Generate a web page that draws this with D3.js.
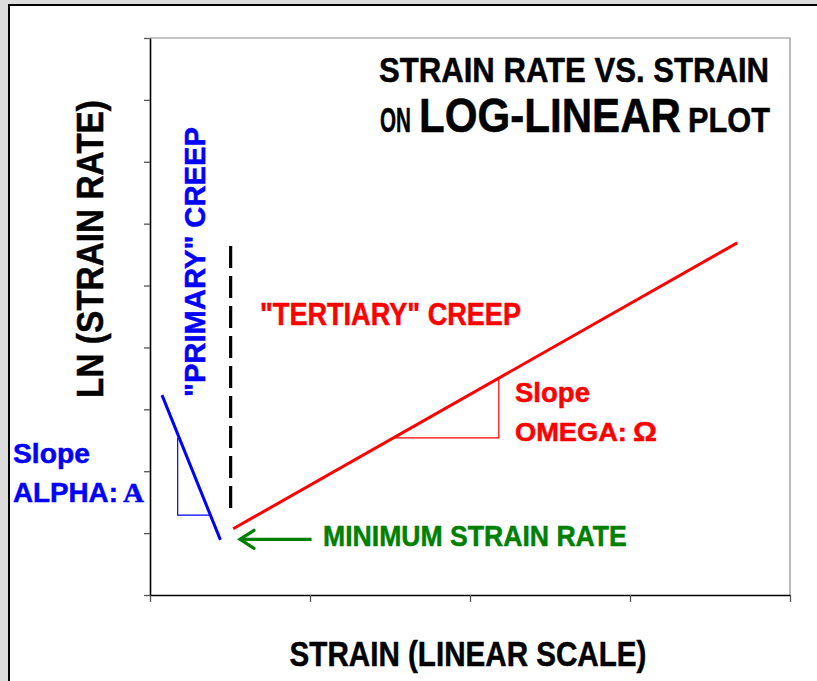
<!DOCTYPE html>
<html><head><meta charset="utf-8">
<script src="https://cdn.jsdelivr.net/npm/d3@7"></script>
<style>
html,body{margin:0;padding:0;background:#dcdcdc;}
svg{display:block;}
</style></head>
<body>
<svg id="chart" width="817" height="681"></svg>
<script>
// ---- data ----
const xTicks = [0, 1, 2, 3, 4];
const yTicks = [0, 1, 2, 3, 4, 5, 6, 7, 8, 9];
const tertiaryLine = [[0.52, 1.07], [3.67, 5.69]];          // red, log-linear strain rate
const omegaTriangle = [[1.53, 2.54], [2.18, 2.54], [2.18, 3.49]];
const primaryLine = [[0.075, 3.23], [0.44, 0.89]];           // blue
const alphaTriangle = [[0.173, 2.54], [0.173, 1.29], [0.37, 1.29]];
const minRateMarker = [[0.504, 5.64], [0.504, 1.29]];         // dashed separator
const minRateArrow = [[1.01, 0.90], [0.5625, 0.90]];
const labels = {
  title1: "STRAIN RATE VS. STRAIN",
  title2a: "ON", title2b: "LOG-LINEAR", title2c: "PLOT",
  xTitle: "STRAIN (LINEAR SCALE)",
  yTitle: "LN (STRAIN RATE)",
  primary: "\"PRIMARY\" CREEP",
  tertiary: "\"TERTIARY\" CREEP",
  minRate: "MINIMUM STRAIN RATE"
};

const svg = d3.select("#chart");
const font = "'Liberation Sans', Arial, Helvetica, sans-serif";

// outer panel
svg.append("rect").attr("x", 9).attr("y", 5).attr("width", 820).attr("height", 690)
  .attr("fill", "#fff");
svg.append("path").attr("d", "M9,690 V5 H817").attr("fill", "none")
  .attr("stroke", "#000").attr("stroke-width", 2);

const pL = 150, pR = 790, pT = 38, pB = 595;
const x = d3.scaleLinear().domain([0, 4]).range([pL, pR]);
const y = d3.scaleLinear().domain([0, 9]).range([pB, pT]);

// plot frame (top/right)
svg.append("path").attr("d", `M${pL},${pT} H${pR} V${pB}`)
  .attr("fill", "none").attr("stroke", "#8c8c8c").attr("stroke-width", 1.2);

const xAxis = svg.append("g").attr("transform", `translate(0,${pB})`)
  .call(d3.axisBottom(x).tickValues(xTicks).tickSize(7).tickSizeOuter(0).tickFormat(""));
const yAxis = svg.append("g").attr("transform", `translate(${pL},0)`)
  .call(d3.axisLeft(y).tickValues(yTicks).tickSize(6).tickSizeOuter(0).tickFormat(""));
[xAxis, yAxis].forEach(g => {
  g.select(".domain").attr("stroke", "#000").attr("stroke-width", 1.6);
  g.selectAll(".tick line").attr("stroke", "#555").attr("stroke-width", 1.3);
});

const line = d3.line().x(d => x(d[0])).y(d => y(d[1]));

svg.append("path").attr("d", line(omegaTriangle)).attr("fill", "none")
  .attr("stroke", "#ff0000").attr("stroke-width", 1.2);
svg.append("path").attr("d", line(tertiaryLine)).attr("fill", "none")
  .attr("stroke", "#ff0000").attr("stroke-width", 3);
svg.append("path").attr("d", line(alphaTriangle)).attr("fill", "none")
  .attr("stroke", "#0000ff").attr("stroke-width", 1.2);
svg.append("path").attr("d", line(primaryLine)).attr("fill", "none")
  .attr("stroke", "#0000ff").attr("stroke-width", 3);
svg.append("path").attr("d", line(minRateMarker)).attr("fill", "none")
  .attr("stroke", "#000").attr("stroke-width", 3.2).attr("stroke-dasharray", "22 8");

// green arrow
svg.append("path").attr("d", line(minRateArrow)).attr("fill", "none")
  .attr("stroke", "#008000").attr("stroke-width", 3.2);
const tip = [x(minRateArrow[1][0]), y(minRateArrow[1][1])];
svg.append("path")
  .attr("d", `M${tip[0] + 14},${tip[1] - 9} L${tip[0]},${tip[1]} L${tip[0] + 14},${tip[1] + 9}`)
  .attr("fill", "none").attr("stroke", "#008000").attr("stroke-width", 3.2)
  .attr("stroke-linecap", "round").attr("stroke-linejoin", "miter");

// text drawn at natural size, then squeezed horizontally to the measured width
function txt(s, px, py, size, len, color, opts = {}) {
  const t = svg.append("text").attr("x", 0).attr("y", 0)
    .attr("font-family", opts.family || font).attr("font-weight", "bold")
    .attr("font-size", size).attr("fill", color)
    .attr("stroke", color).attr("stroke-width", 0.5)
    .attr("text-anchor", opts.anchor || "start")
    .text(s);
  const nat = t.node().getComputedTextLength() || len;
  const sx = len / nat;
  t.attr("transform", `translate(${px},${py})${opts.rotate ? " rotate(-90)" : ""} scale(${sx},1)`);
  return t;
}

// titles
txt(labels.title1, 379, 82, 35, 390, "#000");
txt(labels.title2a, 380, 132, 35, 31, "#000");
txt(labels.title2b, 419, 132, 48, 262, "#000");
txt(labels.title2c, 688, 132, 35, 82, "#000");

// axis titles
txt(labels.xTitle, 468, 666, 35, 357, "#000", {anchor: "middle"});
txt(labels.yTitle, 103, 249, 37, 298, "#000", {anchor: "middle", rotate: true});

// annotations
txt(labels.primary, 205, 262, 30, 270, "#0000ff", {anchor: "middle", rotate: true});
txt(labels.tertiary, 260, 325, 31, 261, "#ff0000");
txt(labels.minRate, 323, 546, 29, 304, "#008000");

txt("Slope", 515, 402, 27, 75, "#ff0000");
txt("OMEGA:", 515, 441, 26, 112, "#ff0000");
txt("\u03A9", 633, 441, 27, 24, "#ff0000");

txt("Slope", 13, 463, 27, 77, "#0000ff");
txt("ALPHA:", 13, 502, 27, 105, "#0000ff");
txt("\u0391", 123, 502, 28, 21, "#0000ff", {family: "'Liberation Serif', 'Times New Roman', serif"});
</script>
</body></html>
